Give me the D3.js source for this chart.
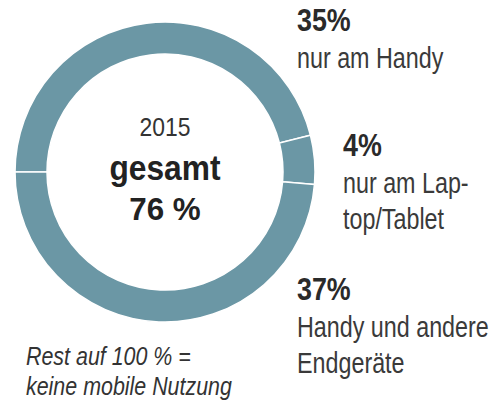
<!DOCTYPE html>
<html>
<head>
<meta charset="utf-8">
<script src="https://cdn.jsdelivr.net/npm/d3@7"></script>
<style>
  body { margin: 0; background: #fff; }
  svg text { font-family: "Liberation Sans", Arial, sans-serif; }
</style>
</head>
<body>
<svg id="chart" width="492" height="404"></svg>
<script>
// Werte aus der Grafik
const segmentKeys = ["handy", "laptop", "beides"];
const segmentValues = [35, 4, 37];
const segmentPercents = ["35%", "4%", "37%"];
const segmentLines = [["nur am Handy"], ["nur am Lap-", "top/Tablet"], ["Handy und andere", "Endgeräte"]];
const centerLines = ["2015", "gesamt", "76 %"];
const footnoteLines = ["Rest auf 100 % =", "keine mobile Nutzung"];

const svg = d3.select("#chart");
const cx = 165, cy = 172;
const outerR = 150, innerR = 118;

const pie = d3.pie()
    .sort(null)
    .startAngle(-Math.PI / 2)
    .endAngle(Math.PI * 1.5);

const arc = d3.arc()
    .innerRadius(innerR)
    .outerRadius(outerR);

const ring = svg.append("g")
    .attr("transform", "translate(" + cx + "," + cy + ")");

ring.selectAll("path")
    .data(pie(segmentValues))
    .enter().append("path")
    .attr("d", arc)
    .attr("fill", "#6b97a5")
    .attr("stroke", "#fff")
    .attr("stroke-width", 1.5);

// Schmale Schrift nachbilden: Text horizontal stauchen
function addText(parent, x, y, str, size, sx, opts) {
    opts = opts || {};
    return parent.append("text")
        .attr("transform", "translate(" + x + "," + y + ") scale(" + sx + ",1)")
        .attr("text-anchor", opts.anchor || "start")
        .attr("font-size", size)
        .attr("font-weight", opts.weight || "normal")
        .attr("font-style", opts.style || "normal")
        .attr("fill", opts.fill || "#3a3a3a")
        .text(str);
}

// Mitte
const center = svg.append("g");
addText(center, cx, 136, centerLines[0], 26.5, 0.865, {anchor: "middle", fill: "#333"});
addText(center, cx, 180, centerLines[1], 34.5, 0.92, {anchor: "middle", weight: "bold", fill: "#222"});
addText(center, cx, 220, centerLines[2], 32, 0.98, {anchor: "middle", weight: "bold", fill: "#222"});

// Beschriftungen rechts
const labelPos = [
    {x: 297, y: 31},
    {x: 343, y: 156},
    {x: 297, y: 300}
];

segmentKeys.forEach(function(k, i) {
    const g = svg.append("g").attr("class", "label-" + k);
    addText(g, labelPos[i].x, labelPos[i].y, segmentPercents[i], 30.5, 0.88, {weight: "bold", fill: "#2a2a2a"});
    segmentLines[i].forEach(function(line, j) {
        addText(g, labelPos[i].x, labelPos[i].y + 37 + j * 36, line, 29.5, 0.79, {fill: "#3a3a3a"});
    });
});

// Fussnote
const foot = svg.append("g");
footnoteLines.forEach(function(line, i) {
    addText(foot, 26, 365 + i * 30, line, 25, 0.857, {style: "italic", fill: "#333"});
});
</script>
</body>
</html>
